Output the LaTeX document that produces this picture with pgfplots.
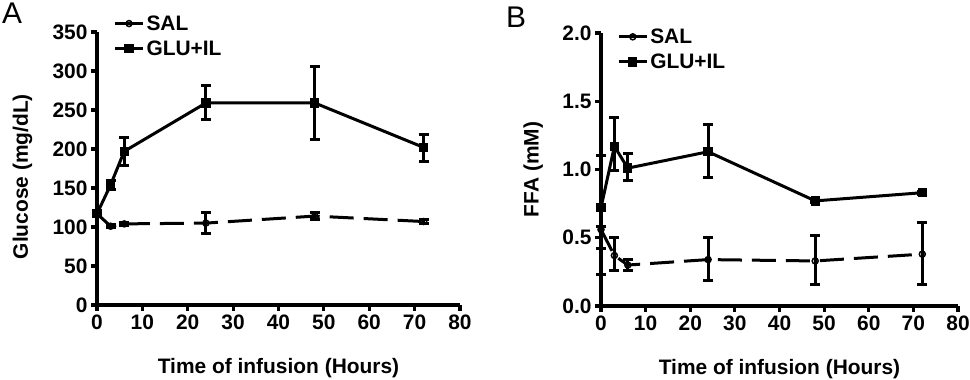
\documentclass[border=0pt]{standalone}
\usepackage{pgfplots}
\pgfplotsset{compat=1.18}
\usepackage{pgfplotstable}
\usepackage{fontspec}
\setmainfont{Liberation Sans}

\pgfplotstableread{
x y ep em
0 117 3 3
3 154 6 6
6 197 18 18
24 259 22 21
48 259 47 47
72 202 17 18
}\gluA
\pgfplotstableread{
x y ep em
0 117 3 3
3 101 2 2
6 104 2 2
24 105 13 13
48 114 5 5
72 107 2 2
}\salA
\pgfplotstableread{
x y ep em
0 0.72 0.38 0.30
3 1.17 0.21 0.18
6 1.01 0.11 0.09
24 1.13 0.20 0.19
48 0.77 0.01 0.01
72 0.83 0.01 0.01
}\gluB
\pgfplotstableread{
x y ep em
0 0.56 0.02 0.33
3 0.37 0.13 0.11
6 0.30 0.04 0.04
24 0.34 0.16 0.15
48 0.33 0.19 0.17
72 0.38 0.23 0.22
}\salB

\pgfplotsset{
  panel/.style={
    scale only axis,
    axis lines=left,
    axis line style={-, line width=3.2bp},
    every tick/.style={line width=3.2bp, black},
    tick align=outside,
    major tick length=6bp,
    xmin=0, xmax=80, xtick={0,10,...,80},
    clip=false,
    /pgf/number format/assume math mode=true,
    tick label style={font=\bfseries\fontsize{21}{24}\selectfont},
    label style={font=\bfseries\fontsize{21}{24}\selectfont},
    xlabel={Time of infusion (Hours)},
    xlabel style={at={(axis description cs:0.5,-0.23)}, anchor=center},
    legend style={draw=none, fill=none, anchor=west,
      font=\bfseries\fontsize{21}{24}\selectfont, row sep=5bp,
      inner xsep=0pt, legend cell align=left},
    legend image code/.code={\draw[#1, solid, mark=none] (0bp,0bp) -- (28bp,0bp);
      \draw[#1, solid, only marks] plot coordinates {(14bp,0bp)};},
  },
  glu/.style={black, line width=3bp, mark=square*, mark size=3.2bp,
    mark options={solid, fill=black},
    error bars/.cd, y dir=both, y explicit,
    error bar style={line width=3bp, solid},
    error mark options={rotate=90, mark size=5bp, line width=3bp}},
  sal/.style={black, line width=3bp, dash pattern=on 24bp off 10bp,
    mark=o, mark size=3bp, mark options={solid, fill=white, line width=1.5bp},
    error bars/.cd, y dir=both, y explicit,
    error bar style={line width=3bp, solid},
    error mark options={rotate=90, mark size=5bp, line width=3bp}},
}

\begin{document}
\begin{tikzpicture}
\useasboundingbox (0bp,0bp) rectangle (970bp,380bp);
\node[anchor=north west, inner sep=0pt, font=\fontsize{30}{34}\selectfont] at (2bp,377bp) {A};
\node[anchor=north west, inner sep=0pt, font=\fontsize{30}{34}\selectfont] at (506bp,373bp) {B};

\begin{axis}[panel, at={(97bp,75bp)}, anchor=south west,
  width=363bp, height=273bp,
  ymin=0, ymax=350, ytick={0,50,...,350},
  ylabel={Glucose (mg/dL)},
  ylabel style={at={(axis description cs:-0.205,0.47)}, anchor=center},
  legend style={at={(axis description cs:0.045,0.985)}},
]
\addplot+[sal] table[x=x, y=y, y error plus=ep, y error minus=em] {\salA};
\addlegendentry{SAL}
\addplot+[glu] table[x=x, y=y, y error plus=ep, y error minus=em] {\gluA};
\addlegendentry{GLU+IL}
\end{axis}

\begin{axis}[panel, at={(601bp,74bp)}, anchor=south west,
  width=357bp, height=273bp,
  ymin=0, ymax=2, ytick={0,0.5,...,2},
  yticklabel style={/pgf/number format/.cd, fixed, fixed zerofill, precision=1},
  ylabel={FFA (mM)},
  ylabel style={at={(axis description cs:-0.19,0.5)}, anchor=center},
  legend style={at={(axis description cs:0.045,0.94)}},
]
\addplot+[sal] table[x=x, y=y, y error plus=ep, y error minus=em] {\salB};
\addlegendentry{SAL}
\addplot+[glu] table[x=x, y=y, y error plus=ep, y error minus=em] {\gluB};
\addlegendentry{GLU+IL}
\end{axis}
\end{tikzpicture}
\end{document}
